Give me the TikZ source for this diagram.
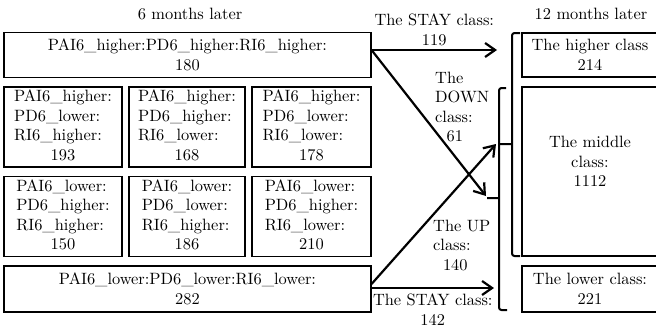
\documentclass[tikz,border=0pt]{standalone}
\usetikzlibrary{arrows.meta,positioning}

% Latin Modern at its 10pt design size, scaled up
\font\lmwide="[lmroman10-regular]" at 16.4pt
% three left-aligned lines and a centred count
\newcommand{\clsbox}[4]{\begin{tabular}{@{}l@{}}#1\\#2\\#3\\\multicolumn{1}{@{}c@{}}{#4}\end{tabular}}

\begin{document}
\begin{tikzpicture}[x=1pt, y=-1pt,
    every node/.style={font=\fontsize{16.4}{19.5}\selectfont\lmwide},
    box/.style={draw, line width=1.1pt, inner sep=0pt, align=center},
    wide/.style={box, minimum width=367pt, minimum height=45pt},
    small/.style={box, minimum height=80pt},
    right box/.style={box, minimum width=136pt},
    arrow/.style={-{Straight Barb[length=10pt,width=14pt]}, line width=2.2pt},
    bracket/.style={line width=2pt, rounded corners=2.5pt}
]
    \useasboundingbox (0,0) rectangle (656,335);

    % Headings
    \node (later6) at (190,14) {6 months later};
    \node (later12) at (591,14) {12 months later};

    % 6 months later
    \node[wide] (hhh) at (187.5,55) {PAI6\_higher:PD6\_higher:RI6\_higher:\\180};

    \node[small, minimum width=118pt] (hlh) at (63,127)
        {\clsbox{PAI6\_higher:}{PD6\_lower:}{RI6\_higher:}{193}};
    \node[small, minimum width=116pt] (hhl) at (187,127)
        {\clsbox{PAI6\_higher:}{PD6\_higher:}{RI6\_lower:}{168}};
    \node[small, minimum width=119pt] (hll) at (311.5,127)
        {\clsbox{PAI6\_higher:}{PD6\_lower:}{RI6\_lower:}{178}};

    \node[small, minimum width=118pt] (lhh) at (63,216.5)
        {\clsbox{PAI6\_lower:}{PD6\_higher:}{RI6\_higher:}{150}};
    \node[small, minimum width=116pt] (llh) at (187,216.5)
        {\clsbox{PAI6\_lower:}{PD6\_lower:}{RI6\_higher:}{186}};
    \node[small, minimum width=119pt] (lhl) at (311.5,216.5)
        {\clsbox{PAI6\_lower:}{PD6\_higher:}{RI6\_lower:}{210}};

    \node[wide, minimum height=46pt] (lll) at (187.5,289) {PAI6\_lower:PD6\_lower:RI6\_lower:\\282};

    % 12 months later
    \node[right box, minimum height=44pt] (higher) at (590,55) {The higher class\\214};
    \node[right box, minimum height=169pt] (middle) at (590,171.5) {The middle\\class:\\1112\\\mbox{}};
    \node[right box, minimum height=46pt] (lower) at (590,289) {The lower class:\\221};

    % Brackets
    \draw[bracket] (520,33) -- (512,33) -- (512,256) -- (520,256) (512,144) -- (499,144);
    \draw[bracket] (506,88) -- (499,88) -- (499,310) -- (507,310) (499,198) -- (487,198);

    % Arrow ends
    \coordinate (stayhi) at (497,50);
    \coordinate (downend) at (486,196);
    \coordinate (upend) at (496,144);
    \coordinate (staylo) at (494,288);

    \draw[arrow] ([yshift=5pt]hhh.east) -- node[above, align=center] {The STAY class:\\119} (stayhi);
    \draw[arrow] ([yshift=5pt]hhh.east) -- (downend);
    \draw[arrow] ([yshift=5pt]lll.east) -- (upend);
    \draw[arrow] ([yshift=1pt]lll.east) -- node[below=3pt, align=center, inner sep=2pt] {The STAY class:\\142} (staylo);

    \node[align=left, anchor=west, inner sep=2pt] (downlbl) at (433,107) {The\\DOWN\\class:\\\hspace{0.7em}61};
    \node[align=left, anchor=west, inner sep=2pt] (uplbl) at (431,245) {The UP\\class:\\\hspace{0.6em}140};
\end{tikzpicture}
\end{document}
